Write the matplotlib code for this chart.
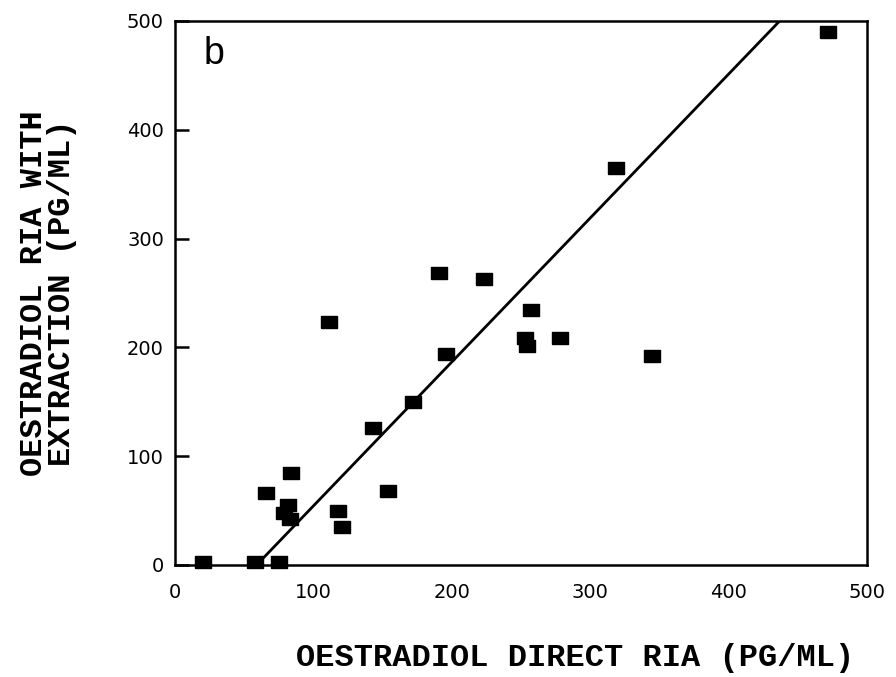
import matplotlib
matplotlib.use("Agg")
import matplotlib.pyplot as plt
import numpy as np

# Data
direct_ria = [20, 58, 75, 66, 84, 82, 79, 83, 118, 121, 143, 154, 172,
              111, 191, 223, 257, 253, 254, 278, 196, 345, 319, 472]
extraction_ria = [3, 3, 3, 66, 85, 55, 48, 42, 50, 35, 126, 68, 150,
                  223, 268, 263, 234, 209, 201, 209, 194, 192, 365, 490]

# Regression line parameters
fit_slope = 1.323
fit_intercept = -78.0

x_ticks = [0, 100, 200, 300, 400, 500]
y_ticks = [0, 100, 200, 300, 400, 500]

fig = plt.figure(figsize=(8.96, 6.77), dpi=100)
ax = fig.add_axes([175/896, 1-565/677, (867-175)/896, (565-21)/677])

rect = [(-1, -0.72), (1, -0.72), (1, 0.72), (-1, 0.72), (-1, -0.72)]
ax.plot(direct_ria, extraction_ria, linestyle='none', marker=rect,
        markersize=11.5, color='black', zorder=3, clip_on=False)

x0 = -fit_intercept / fit_slope
x1 = (500 - fit_intercept) / fit_slope
xs = np.array([x0, x1])
ax.plot(xs, fit_slope * xs + fit_intercept, color='black', lw=2.0, zorder=2)

ax.set_xlim(0, 500)
ax.set_ylim(0, 500)
ax.set_xticks(x_ticks)
ax.set_yticks(y_ticks)
ax.set_xticklabels([str(v) for v in x_ticks], fontsize=14, family='DejaVu Sans')
ax.set_yticklabels([str(v) for v in y_ticks], fontsize=14, family='DejaVu Sans')
ax.tick_params(axis='y', direction='in', length=10, width=1.8, pad=8)
ax.tick_params(axis='x', direction='in', length=0, pad=13)
for s in ax.spines.values():
    s.set_linewidth(1.8)

ax.text(0.057, 0.94, 'b', transform=ax.transAxes, fontsize=27,
        family='Liberation Sans', va='center', ha='center')

fig.text(575/896, 1-658/677, 'OESTRADIOL DIRECT RIA (PG/ML)',
         family='Liberation Mono', weight='bold', fontsize=23,
         ha='center', va='center')
fig.text(48/896, 1-293/677, 'OESTRADIOL RIA WITH\nEXTRACTION (PG/ML)',
         family='Liberation Mono', weight='bold', fontsize=23,
         ha='center', va='center', rotation=90, linespacing=0.95)

fig.savefig('out.png', dpi=100)
